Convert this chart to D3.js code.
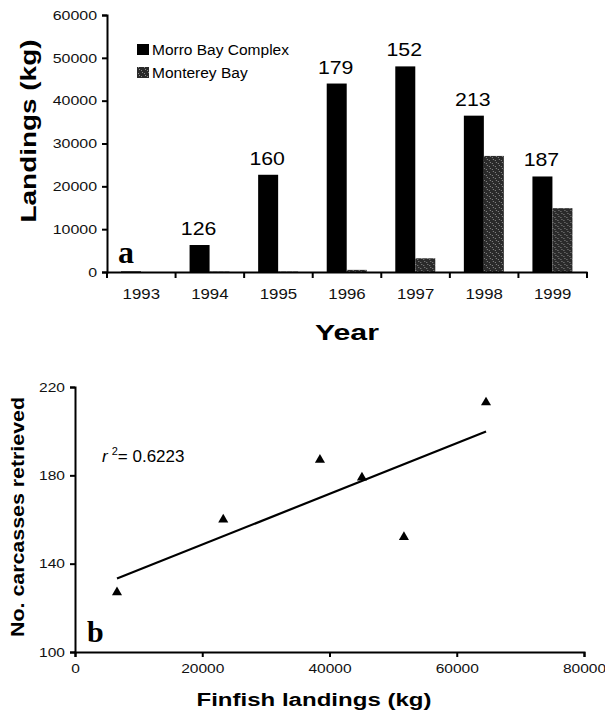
<!DOCTYPE html>
<html>
<head>
<meta charset="utf-8">
<script src="https://cdn.jsdelivr.net/npm/d3@7"></script>
<style>
  body { margin: 0; background: #fff; }
  svg { display: block; font-family: Arial, "Liberation Sans", sans-serif; }
</style>
</head>
<body>
<div id="chart"></div>
<script>
// panel a: landings by year
const years = ["1993", "1994", "1995", "1996", "1997", "1998", "1999"];
const seriesNames = ["Morro Bay Complex", "Monterey Bay"];
const morroBay = [150, 6300, 22700, 44000, 48000, 36500, 22300];
const montereyBay = [0, 100, 100, 500, 3200, 27100, 14900];
const carcassLabels = ["", "126", "160", "179", "152", "213", "187"];
const landingTicks = [0, 10000, 20000, 30000, 40000, 50000, 60000];

// panel b: carcasses vs finfish landings
const finfishLandings = [6600, 23300, 38500, 45100, 51700, 64600];
const carcasses = [127, 160, 187, 179, 152, 213];
const finfishTicks = [0, 20000, 40000, 60000, 80000];
const carcassTicks = [100, 140, 180, 220];
const rSquaredText = "0.6223";

const svg = d3.select("#chart").append("svg")
    .attr("width", 605)
    .attr("height", 721);

// the scanned figure is a little wider than tall, stretch small text to match
function widen(sel, k) {
    sel.each(function () {
        const w = this.getComputedTextLength();
        d3.select(this).attr("textLength", w * k).attr("lengthAdjust", "spacingAndGlyphs");
    });
}

// speckled fill for Monterey Bay bars
const pat = svg.append("defs").append("pattern")
    .attr("id", "speckle")
    .attr("patternUnits", "userSpaceOnUse")
    .attr("width", 6).attr("height", 6);
pat.append("rect").attr("width", 6).attr("height", 6).attr("fill", "#2a2a2a");
[[0, 1], [3, 4], [4, 0], [1, 3]].forEach(p => {
    pat.append("rect").attr("x", p[0]).attr("y", p[1])
        .attr("width", 1).attr("height", 1).attr("fill", "#8a8a8a");
});

// ---------- panel a ----------
const a = svg.append("g");

const x0 = d3.scaleBand().domain(years).range([107, 587]).padding(0);
const x1 = d3.scaleBand().domain(seriesNames).range([14, 54]).padding(0);
const yA = d3.scaleLinear().domain([0, 60000]).range([272, 15]);

const rows = years.map((yr, i) => ({
    year: yr,
    label: carcassLabels[i],
    values: [morroBay[i], montereyBay[i]]
}));

const groups = a.selectAll(".yr")
    .data(rows)
    .enter().append("g")
    .attr("class", "yr")
    .attr("transform", d => `translate(${x0(d.year)},0)`);

groups.selectAll("rect")
    .data(d => d.values.map((v, k) => ({ key: seriesNames[k], v: v })))
    .enter().append("rect")
    .attr("x", d => x1(d.key))
    .attr("y", d => yA(d.v))
    .attr("width", x1.bandwidth())
    .attr("height", d => yA(0) - yA(d.v))
    .attr("fill", d => d.key === seriesNames[0] ? "#000" : "url(#speckle)");

const barLabels = groups.append("text")
    .attr("x", x1(seriesNames[0]) + x1.bandwidth() / 2 - 1)
    .attr("y", d => yA(d.values[0]) - 10)
    .attr("text-anchor", "middle")
    .attr("font-size", 18.5)
    .text(d => d.label);
widen(barLabels.filter(d => d.label !== ""), 1.15);

// y axis
const yAxisA = a.append("g")
    .attr("transform", "translate(107,0)")
    .call(d3.axisLeft(yA).tickValues(landingTicks).tickSize(5).tickPadding(5).tickFormat(d3.format("d")));
yAxisA.selectAll("text").attr("font-size", 13.5).attr("fill", "#111");
widen(yAxisA.selectAll("text"), 1.18);

// x axis: labels centred, ticks at band edges
const xAxisA = a.append("g")
    .attr("transform", "translate(0,272)")
    .call(d3.axisBottom(x0).tickSize(0).tickPadding(16));
xAxisA.selectAll("text").attr("font-size", 15).attr("fill", "#111");
widen(xAxisA.selectAll("text"), 1.12);
xAxisA.selectAll(".tick")
    .append("line")
    .attr("x1", x0.bandwidth() / 2).attr("x2", x0.bandwidth() / 2)
    .attr("y1", 0).attr("y2", 6)
    .attr("stroke", "#000").attr("stroke-width", 2);
xAxisA.append("line")
    .attr("x1", x0.range()[0]).attr("x2", x0.range()[0])
    .attr("y1", 0).attr("y2", 6)
    .attr("stroke", "#000").attr("stroke-width", 2);

a.selectAll(".domain").attr("stroke-width", 2);
a.selectAll(".tick line").attr("stroke-width", 2);

// legend
const legend = a.append("g");
seriesNames.forEach((name, i) => {
    legend.append("rect")
        .attr("x", 137).attr("y", 44 + i * 23)
        .attr("width", 12).attr("height", 11)
        .attr("fill", i === 0 ? "#000" : "url(#speckle)");
    legend.append("text")
        .attr("x", 152).attr("y", 55 + i * 23)
        .attr("font-size", 15.5)
        .text(name);
});

a.append("text")
    .attr("x", 118).attr("y", 263)
    .attr("font-family", "'Liberation Serif', 'Times New Roman', serif")
    .attr("font-weight", "bold").attr("font-size", 32)
    .text("a");

a.append("text")
    .attr("transform", "translate(36,131) rotate(-90)")
    .attr("text-anchor", "middle")
    .attr("font-weight", "bold").attr("font-size", 22)
    .attr("textLength", 183).attr("lengthAdjust", "spacingAndGlyphs")
    .text("Landings (kg)");

a.append("text")
    .attr("x", 347).attr("y", 340)
    .attr("text-anchor", "middle")
    .attr("font-weight", "bold").attr("font-size", 22)
    .attr("textLength", 64).attr("lengthAdjust", "spacingAndGlyphs")
    .text("Year");

// ---------- panel b ----------
const b = svg.append("g");

const xB = d3.scaleLinear().domain([0, 80000]).range([75, 584]);
const yB = d3.scaleLinear().domain([100, 220]).range([652, 387]);

const xAxisB = b.append("g")
    .attr("transform", "translate(0,652)")
    .call(d3.axisBottom(xB).tickValues(finfishTicks).tickSize(5).tickPadding(6).tickFormat(d3.format("d")));
xAxisB.selectAll("text").attr("font-size", 13.5).attr("fill", "#111");
widen(xAxisB.selectAll("text"), 1.15);

const yAxisB = b.append("g")
    .attr("transform", "translate(75,0)")
    .call(d3.axisLeft(yB).tickValues(carcassTicks).tickSize(5).tickPadding(5));
yAxisB.selectAll("text").attr("font-size", 13.5).attr("fill", "#111");
widen(yAxisB.selectAll("text"), 1.15);

b.selectAll(".domain").attr("stroke-width", 2);
b.selectAll(".tick line").attr("stroke-width", 2);

// least squares fit through the points
const pts = finfishLandings.map((v, i) => ({ x: v, y: carcasses[i] }));
const mx = d3.mean(pts, d => d.x), my = d3.mean(pts, d => d.y);
const slope = d3.sum(pts, d => (d.x - mx) * (d.y - my)) / d3.sum(pts, d => (d.x - mx) ** 2);
const icpt = my - slope * mx;
const [fx0, fx1] = d3.extent(pts, d => d.x);

b.append("line")
    .attr("x1", xB(fx0)).attr("y1", yB(icpt + slope * fx0))
    .attr("x2", xB(fx1)).attr("y2", yB(icpt + slope * fx1))
    .attr("stroke", "#000").attr("stroke-width", 2.2);

b.selectAll(".pt")
    .data(pts)
    .enter().append("path")
    .attr("class", "pt")
    .attr("d", d3.symbol().type(d3.symbolTriangle).size(44))
    .attr("transform", d => `translate(${xB(d.x)},${yB(d.y)})`)
    .attr("fill", "#000");

const r2 = b.append("text")
    .attr("x", 102).attr("y", 462)
    .attr("font-size", 17);
r2.append("tspan").attr("font-style", "italic").text("r");
r2.append("tspan").attr("dx", 4).attr("dy", -7).attr("font-size", 11).text("2");
r2.append("tspan").attr("dy", 7).text("= " + rSquaredText);

b.append("text")
    .attr("x", 87).attr("y", 642)
    .attr("font-family", "'Liberation Serif', 'Times New Roman', serif")
    .attr("font-weight", "bold").attr("font-size", 30)
    .text("b");

b.append("text")
    .attr("transform", "translate(24,517) rotate(-90)")
    .attr("text-anchor", "middle")
    .attr("font-weight", "bold").attr("font-size", 18)
    .attr("textLength", 240).attr("lengthAdjust", "spacingAndGlyphs")
    .text("No. carcasses retrieved");

b.append("text")
    .attr("x", 314).attr("y", 706)
    .attr("text-anchor", "middle")
    .attr("font-weight", "bold").attr("font-size", 18)
    .attr("textLength", 235).attr("lengthAdjust", "spacingAndGlyphs")
    .text("Finfish landings (kg)");
</script>
</body>
</html>
